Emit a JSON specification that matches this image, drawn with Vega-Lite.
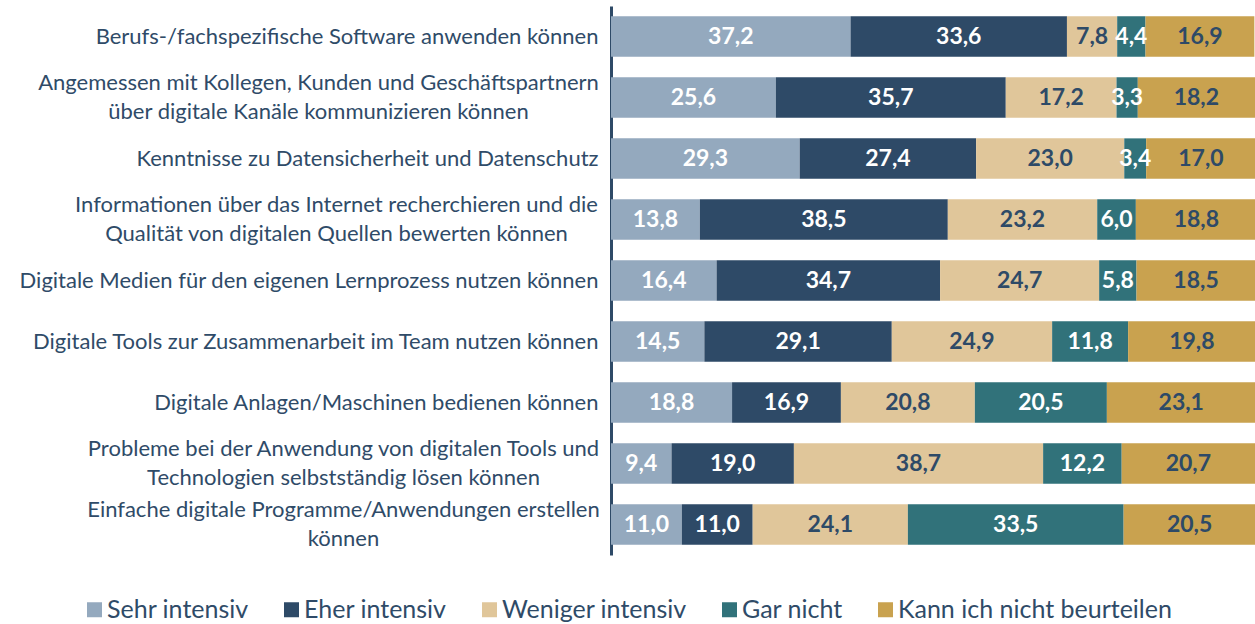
{
  "$schema": "https://vega.github.io/schema/vega-lite/v6.json",
  "width": 644,
  "height": 549,
  "autosize": {"type": "none"},
  "padding": {"left": 611, "top": 6, "right": 0, "bottom": 69},
  "config": {
    "locale": {"number": {"decimal": ",", "thousands": ".", "grouping": [3], "currency": ["", " €"]}},
    "view": {"stroke": null},
    "font": "Lato"
  },
  "data": {"values": [
    {"cat": "Berufs-/fachspezifische Software anwenden können", "series": "Sehr intensiv", "idx": 0, "value": 37.2},
    {"cat": "Berufs-/fachspezifische Software anwenden können", "series": "Eher intensiv", "idx": 1, "value": 33.6},
    {"cat": "Berufs-/fachspezifische Software anwenden können", "series": "Weniger intensiv", "idx": 2, "value": 7.8},
    {"cat": "Berufs-/fachspezifische Software anwenden können", "series": "Gar nicht", "idx": 3, "value": 4.4},
    {"cat": "Berufs-/fachspezifische Software anwenden können", "series": "Kann ich nicht beurteilen", "idx": 4, "value": 16.9},
    {"cat": "Angemessen mit Kollegen, Kunden und Geschäftspartnern|über digitale Kanäle kommunizieren können", "series": "Sehr intensiv", "idx": 0, "value": 25.6},
    {"cat": "Angemessen mit Kollegen, Kunden und Geschäftspartnern|über digitale Kanäle kommunizieren können", "series": "Eher intensiv", "idx": 1, "value": 35.7},
    {"cat": "Angemessen mit Kollegen, Kunden und Geschäftspartnern|über digitale Kanäle kommunizieren können", "series": "Weniger intensiv", "idx": 2, "value": 17.2},
    {"cat": "Angemessen mit Kollegen, Kunden und Geschäftspartnern|über digitale Kanäle kommunizieren können", "series": "Gar nicht", "idx": 3, "value": 3.3},
    {"cat": "Angemessen mit Kollegen, Kunden und Geschäftspartnern|über digitale Kanäle kommunizieren können", "series": "Kann ich nicht beurteilen", "idx": 4, "value": 18.2},
    {"cat": "Kenntnisse zu Datensicherheit und Datenschutz", "series": "Sehr intensiv", "idx": 0, "value": 29.3},
    {"cat": "Kenntnisse zu Datensicherheit und Datenschutz", "series": "Eher intensiv", "idx": 1, "value": 27.4},
    {"cat": "Kenntnisse zu Datensicherheit und Datenschutz", "series": "Weniger intensiv", "idx": 2, "value": 23.0},
    {"cat": "Kenntnisse zu Datensicherheit und Datenschutz", "series": "Gar nicht", "idx": 3, "value": 3.4},
    {"cat": "Kenntnisse zu Datensicherheit und Datenschutz", "series": "Kann ich nicht beurteilen", "idx": 4, "value": 17.0},
    {"cat": "Informationen über das Internet recherchieren und die|Qualität von digitalen Quellen bewerten können", "series": "Sehr intensiv", "idx": 0, "value": 13.8},
    {"cat": "Informationen über das Internet recherchieren und die|Qualität von digitalen Quellen bewerten können", "series": "Eher intensiv", "idx": 1, "value": 38.5},
    {"cat": "Informationen über das Internet recherchieren und die|Qualität von digitalen Quellen bewerten können", "series": "Weniger intensiv", "idx": 2, "value": 23.2},
    {"cat": "Informationen über das Internet recherchieren und die|Qualität von digitalen Quellen bewerten können", "series": "Gar nicht", "idx": 3, "value": 6.0},
    {"cat": "Informationen über das Internet recherchieren und die|Qualität von digitalen Quellen bewerten können", "series": "Kann ich nicht beurteilen", "idx": 4, "value": 18.8},
    {"cat": "Digitale Medien für den eigenen Lernprozess nutzen können", "series": "Sehr intensiv", "idx": 0, "value": 16.4},
    {"cat": "Digitale Medien für den eigenen Lernprozess nutzen können", "series": "Eher intensiv", "idx": 1, "value": 34.7},
    {"cat": "Digitale Medien für den eigenen Lernprozess nutzen können", "series": "Weniger intensiv", "idx": 2, "value": 24.7},
    {"cat": "Digitale Medien für den eigenen Lernprozess nutzen können", "series": "Gar nicht", "idx": 3, "value": 5.8},
    {"cat": "Digitale Medien für den eigenen Lernprozess nutzen können", "series": "Kann ich nicht beurteilen", "idx": 4, "value": 18.5},
    {"cat": "Digitale Tools zur Zusammenarbeit im Team nutzen können", "series": "Sehr intensiv", "idx": 0, "value": 14.5},
    {"cat": "Digitale Tools zur Zusammenarbeit im Team nutzen können", "series": "Eher intensiv", "idx": 1, "value": 29.1},
    {"cat": "Digitale Tools zur Zusammenarbeit im Team nutzen können", "series": "Weniger intensiv", "idx": 2, "value": 24.9},
    {"cat": "Digitale Tools zur Zusammenarbeit im Team nutzen können", "series": "Gar nicht", "idx": 3, "value": 11.8},
    {"cat": "Digitale Tools zur Zusammenarbeit im Team nutzen können", "series": "Kann ich nicht beurteilen", "idx": 4, "value": 19.8},
    {"cat": "Digitale Anlagen/Maschinen bedienen können", "series": "Sehr intensiv", "idx": 0, "value": 18.8},
    {"cat": "Digitale Anlagen/Maschinen bedienen können", "series": "Eher intensiv", "idx": 1, "value": 16.9},
    {"cat": "Digitale Anlagen/Maschinen bedienen können", "series": "Weniger intensiv", "idx": 2, "value": 20.8},
    {"cat": "Digitale Anlagen/Maschinen bedienen können", "series": "Gar nicht", "idx": 3, "value": 20.5},
    {"cat": "Digitale Anlagen/Maschinen bedienen können", "series": "Kann ich nicht beurteilen", "idx": 4, "value": 23.1},
    {"cat": "Probleme bei der Anwendung von digitalen Tools und|Technologien selbstständig lösen können", "series": "Sehr intensiv", "idx": 0, "value": 9.4},
    {"cat": "Probleme bei der Anwendung von digitalen Tools und|Technologien selbstständig lösen können", "series": "Eher intensiv", "idx": 1, "value": 19.0},
    {"cat": "Probleme bei der Anwendung von digitalen Tools und|Technologien selbstständig lösen können", "series": "Weniger intensiv", "idx": 2, "value": 38.7},
    {"cat": "Probleme bei der Anwendung von digitalen Tools und|Technologien selbstständig lösen können", "series": "Gar nicht", "idx": 3, "value": 12.2},
    {"cat": "Probleme bei der Anwendung von digitalen Tools und|Technologien selbstständig lösen können", "series": "Kann ich nicht beurteilen", "idx": 4, "value": 20.7},
    {"cat": "Einfache digitale Programme/Anwendungen erstellen|können", "series": "Sehr intensiv", "idx": 0, "value": 11.0},
    {"cat": "Einfache digitale Programme/Anwendungen erstellen|können", "series": "Eher intensiv", "idx": 1, "value": 11.0},
    {"cat": "Einfache digitale Programme/Anwendungen erstellen|können", "series": "Weniger intensiv", "idx": 2, "value": 24.1},
    {"cat": "Einfache digitale Programme/Anwendungen erstellen|können", "series": "Gar nicht", "idx": 3, "value": 33.5},
    {"cat": "Einfache digitale Programme/Anwendungen erstellen|können", "series": "Kann ich nicht beurteilen", "idx": 4, "value": 20.5}
  ]},
  "encoding": {
    "y": {
      "field": "cat", "type": "nominal", "sort": null,
      "scale": {"paddingInner": 0.34, "paddingOuter": 0.17},
      "axis": {
        "title": null, "ticks": false, "domain": true, "domainColor": "#2E4A67", "domainWidth": 3,
        "labelFontSize": 22, "labelColor": "#2F4B68", "labelLimit": 0,
        "labelExpr": "split(datum.label, '|')", "labelLineHeight": 29,
        "labelAlign": {"condition": {"test": "indexof(datum.value, '|') >= 0", "value": "center"}, "value": "right"},
        "labelOffset": {"condition": {"test": "indexof(datum.value, '|') >= 0", "value": -14.5}, "value": 0},
        "labelPadding": {"condition": [
          {"test": "indexof(datum.value, 'Angemessen') == 0", "value": 293},
          {"test": "indexof(datum.value, 'Informationen') == 0", "value": 275},
          {"test": "indexof(datum.value, 'Probleme') == 0", "value": 268},
          {"test": "indexof(datum.value, 'Einfache') == 0", "value": 268}
        ], "value": 13}
      }
    }
  },
  "layer": [
    {
      "mark": {"type": "bar"},
      "encoding": {
        "x": {"field": "value", "type": "quantitative", "stack": "zero", "scale": {"domain": [0, 100], "nice": false}, "axis": null},
        "color": {
          "field": "series", "type": "nominal",
          "scale": {
            "domain": ["Sehr intensiv", "Eher intensiv", "Weniger intensiv", "Gar nicht", "Kann ich nicht beurteilen"],
            "range": ["#94A9BE", "#2E4A67", "#E0C69A", "#31727A", "#C9A24F"]
          },
          "legend": {
            "orient": "none", "legendX": -529, "legendY": 591, "direction": "horizontal", "title": null,
            "symbolType": "square", "symbolSize": 225, "symbolStrokeWidth": 0, "labelFontSize": 25,
            "labelColor": "#2F4B68", "columnPadding": 30, "labelOffset": 0, "labelLimit": 0
          }
        },
        "order": {"field": "idx"}
      }
    },
    {
      "transform": [
        {"stack": "value", "groupby": ["cat"], "sort": [{"field": "idx"}], "as": ["x0", "x1"]},
        {"calculate": "(datum.x0 + datum.x1) / 2", "as": "mid"}
      ],
      "mark": {"type": "text", "fontSize": 23, "fontWeight": "bold"},
      "encoding": {
        "x": {"field": "mid", "type": "quantitative"},
        "text": {"field": "value", "type": "quantitative", "format": ".1f"},
        "color": {"condition": {"test": "datum.idx == 2 || datum.idx == 4", "value": "#2E4A67"}, "value": "#FFFFFF"}
      }
    }
  ]
}
